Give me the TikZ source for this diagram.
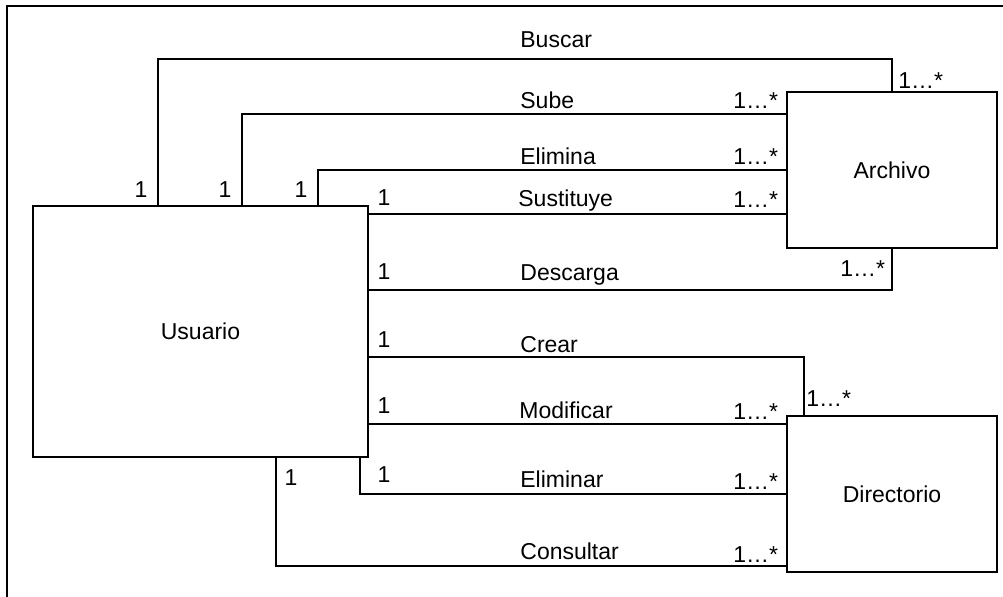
\documentclass[tikz,border=0pt]{standalone}
\usepackage{fontspec}
\setmainfont{Liberation Sans}

\begin{document}
\begin{tikzpicture}[x=0.5pt, y=-0.5pt,
    font=\fontsize{11.5}{13}\selectfont,
    entity/.style={draw, rectangle, line width=0.6pt, fill=white, inner sep=0pt},
    link/.style={draw, line width=0.6pt},
    lbl/.style={inner sep=0pt, anchor=base west},
    one/.style={inner sep=0pt, anchor=base},
    many/.style={inner sep=0pt, anchor=base west}]
    \clip (0,0) rectangle (1003,596);
    % Frame
    \draw[line width=1.2pt] (7,6) rectangle (1020,620);

    % Nodes
    \node[entity, minimum width=167.5pt, minimum height=125.5pt] (usuario) at (200.5,331.5) {Usuario};
    \node[entity, minimum width=105pt, minimum height=78pt] (archivo) at (892,170) {Archivo};
    \node[entity, minimum width=105pt, minimum height=78pt] (directorio) at (892,494) {Directorio};

    % Bends of the associations
    \coordinate (buscar) at (158,59);
    \coordinate (sube) at (242,114);
    \coordinate (elimina) at (318,170);
    \coordinate (sustituye) at (368,214);
    \coordinate (descarga) at (892,290);
    \coordinate (crear) at (804,357);
    \coordinate (modificar) at (368,424);
    \coordinate (eliminar) at (360,494);
    \coordinate (consultar) at (276,566);

    % Associations
    \draw[link] (usuario.north -| buscar) |- (archivo.north |- buscar) -- (archivo.north);
    \draw[link] (usuario.north -| sube) |- (archivo.west |- sube);
    \draw[link] (usuario.north -| elimina) |- (archivo.west |- elimina);
    \draw[link] (usuario.east |- sustituye) -- (archivo.west |- sustituye);
    \draw[link] (usuario.east |- descarga) -| (archivo.south);
    \draw[link] (usuario.east |- crear) -| (directorio.north -| crear);
    \draw[link] (usuario.east |- modificar) -- (directorio.west |- modificar);
    \draw[link] (usuario.south -| eliminar) |- (directorio.west |- eliminar);
    \draw[link] (usuario.south -| consultar) |- (directorio.west |- consultar);

    % Names
    \node[lbl] (l-buscar) at (520,47) {Buscar};
    \node[lbl] (l-sube) at (520,108) {Sube};
    \node[lbl] (l-elimina) at (520,164) {Elimina};
    \node[lbl] (l-sustituye) at (518,206) {Sustituye};
    \node[lbl] (l-descarga) at (520,280) {Descarga};
    \node[lbl] (l-crear) at (520,352) {Crear};
    \node[lbl] (l-modificar) at (519,418) {Modificar};
    \node[lbl] (l-eliminar) at (520,487) {Eliminar};
    \node[lbl] (l-consultar) at (520,559) {Consultar};

    % Multiplicities
    \node[one] (m1-buscar) at (141,197) {1};
    \node[one] (m1-sube) at (225,197) {1};
    \node[one] (m1-elimina) at (301,197) {1};
    \node[one] (m1-sustituye) at (384,205) {1};
    \node[one] (m1-descarga) at (384,279) {1};
    \node[one] (m1-crear) at (384,347) {1};
    \node[one] (m1-modificar) at (384,413) {1};
    \node[one] (m1-eliminar) at (384,482) {1};
    \node[one] (m1-consultar) at (291,485) {1};

    \node[many] (mn-buscar) at (898,88) {1…*};
    \node[many] (mn-sube) at (733,108) {1…*};
    \node[many] (mn-elimina) at (733,164) {1…*};
    \node[many] (mn-sustituye) at (733,207) {1…*};
    \node[many] (mn-descarga) at (840,276) {1…*};
    \node[many] (mn-crear) at (806,406) {1…*};
    \node[many] (mn-modificar) at (733,419) {1…*};
    \node[many] (mn-eliminar) at (733,489) {1…*};
    \node[many] (mn-consultar) at (733,562) {1…*};
\end{tikzpicture}
\end{document}
